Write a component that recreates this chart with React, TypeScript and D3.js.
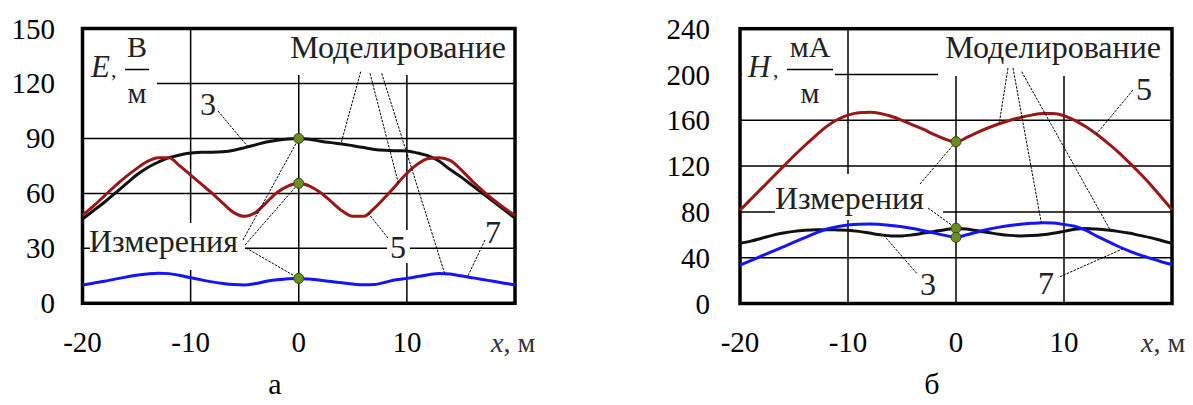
import React from 'react';
import * as d3 from 'd3';

// x, m
const xs = [-20, -19, -18, -17, -16, -15, -14, -13, -12, -11, -10, -9, -8, -7, -6, -5, -4, -3, -2, -1, 0,
  1, 2, 3, 4, 5, 6, 7, 8, 9, 10, 11, 12, 13, 14, 15, 16, 17, 18, 19, 20];

// E, V/m
const e3 = [46, 50.5, 55, 60, 65, 70, 74, 77, 79.5, 81, 82, 82.5, 82.5, 82.7, 83.5, 85, 86.5, 88, 89, 89.7, 90,
  89.5, 88.5, 87.7, 87, 86, 85, 84, 83.5, 83.3, 83.2, 82, 80.5, 77.5, 73, 69, 64.5, 60, 55.5, 51, 46.5];
const e5 = [48, 53, 58.5, 64, 69, 73.5, 77.5, 79.5, 79.5, 75, 70, 65, 60, 54.5, 49.5, 47.5, 49.5, 55, 60.5, 64, 65.5,
  64, 60.5, 55.5, 50.5, 47.5, 47.5, 52, 58, 64.5, 71, 76, 79, 79.5, 78, 73, 67, 61.5, 56.5, 52, 48];
const e7 = [10, 11, 12, 13.2, 14.3, 15.3, 16, 16.4, 16.2, 15.2, 14, 12.8, 11.7, 10.8, 10.2, 10, 10.8, 12, 12.8, 13.4, 13.6,
  13.2, 12.6, 11.9, 11.2, 10.5, 10.1, 10.2, 11.5, 12.8, 13.6, 14.6, 15.6, 16.3, 16, 15, 14, 13, 12, 11, 10];
const eMeas = [90, 65.5, 13.6];

// H, mA/m
const h3 = [52.5, 54.5, 57, 59.5, 61.5, 63, 64, 64.5, 64.5, 64.3, 64, 63, 61.5, 60, 59, 59, 60, 61.5, 63, 64.5, 65.5,
  65, 63.5, 62, 60.5, 59.5, 59, 59.3, 60, 61.3, 63, 64.8, 65.5, 65, 64.2, 63, 61.5, 59.5, 57.5, 55, 52.5];
const h5 = [81.5, 91, 100.5, 110, 119.5, 129, 138, 146.5, 154.5, 160.5, 164.5, 166.5, 167, 166, 163.5, 160, 156, 152, 147.5, 143.5, 141,
  145, 149.5, 153.5, 157, 160, 162.5, 164.5, 166, 166, 164, 160, 154.5, 148, 140.5, 132.5, 123.5, 114, 104, 93, 82];
const h7 = [33.6, 37.5, 41.5, 45.5, 49.5, 53.5, 57.5, 61.5, 64.8, 67, 68.5, 69.3, 69.5, 69, 68.2, 67, 65.5, 63.5, 61.5, 59.5, 57.8,
  60, 62.5, 64.8, 66.7, 68.2, 69.3, 70, 70.5, 70.2, 69, 67.5, 64, 59, 54.5, 50, 46, 42.5, 39.5, 36.5, 34];
const hMeas = [141.3, 65.7, 57.8];

const measX = 0;
const xTicks = [-20, -10, 0, 10];
const xGrid = [-10, 0, 10];
const eTicks = [0, 30, 60, 90, 120, 150];
const hTicks = [0, 40, 80, 120, 160, 200, 240];

const FONT = "'Liberation Serif', 'DejaVu Serif', serif";
const RED = '#9a1717';
const BLUE = '#1414ff';
const BLACK = '#111';

// value of a series at any x (linear between samples)
const at = (vals: number[], xv: number) => {
  const i = Math.max(0, Math.min(xs.length - 2, Math.floor(xv - xs[0])));
  const t = (xv - xs[i]) / (xs[i + 1] - xs[i]);
  return vals[i] + (vals[i + 1] - vals[i]) * t;
};

type Leader = { from: [number, number]; vals?: number[]; xv?: number; meas?: number };
type Label = { text: string; x: number; y: number; anchor?: string };

type PanelProps = {
  xRange: [number, number];
  yMax: number;
  yRange: [number, number];
  yTicks: number[];
  tickRight: number;
  series: { vals: number[]; color: string }[];
  meas: number[];
  masks: [number, number, number, number][];
  labels: Label[];
  leaders: Leader[];
  sym: string;
  unitTop: string;
  unit: { symX: number; commaX: number; fracX: number; barX: [number, number] };
  caption: { text: string; x: number };
  xLabelX: number;
};

const Panel = (p: PanelProps) => {
  const x = d3.scaleLinear().domain([-20, 20]).range(p.xRange);
  const y = d3.scaleLinear().domain([0, p.yMax]).range(p.yRange);
  const line = d3.line<number>()
    .x((_, i) => x(xs[i]))
    .y(d => y(d))
    .curve(d3.curveMonotoneX);
  const [x0, x1] = p.xRange;
  const [yb, yt] = p.yRange;

  return (
    <g>
      {/* grid */}
      {xGrid.map(v => (
        <line key={'gx' + v} x1={x(v)} x2={x(v)} y1={yt} y2={yb} stroke="#000" strokeWidth={1.5} />
      ))}
      {p.yTicks.slice(1, -1).map(v => (
        <line key={'gy' + v} x1={x0} x2={x1} y1={y(v)} y2={y(v)} stroke="#000" strokeWidth={1.5} />
      ))}
      {/* label backgrounds */}
      {p.masks.map((m, i) => (
        <rect key={'m' + i} x={m[0]} y={m[1]} width={m[2]} height={m[3]} fill="#fff" />
      ))}
      <rect x={x0} y={yt} width={x1 - x0} height={yb - yt} fill="none" stroke="#000" strokeWidth={3.5} />
      {/* curves */}
      {p.series.map((s, i) => (
        <path key={'s' + i} d={line(s.vals) || ''} fill="none" stroke={s.color} strokeWidth={3}
          strokeLinejoin="round" />
      ))}
      {/* leaders */}
      {p.leaders.map((l, i) => {
        const ex = l.meas !== undefined ? x(measX) : x(l.xv as number);
        const ey = l.meas !== undefined ? y(l.meas) : y(at(l.vals as number[], l.xv as number));
        return (
          <line key={'l' + i} x1={l.from[0]} y1={l.from[1]} x2={ex} y2={ey}
            stroke="#000" strokeWidth={1} strokeDasharray="2.5 1.2" />
        );
      })}
      {/* measurements */}
      {p.meas.map((v, i) => (
        <circle key={'p' + i} cx={x(measX)} cy={y(v)} r={5} fill="#6b8e23" stroke="#33480f" strokeWidth={1} />
      ))}
      {/* tick labels */}
      {p.yTicks.map(v => (
        <text key={'ty' + v} x={p.tickRight} y={y(v) + 10} textAnchor="end" fontSize={29}>{v}</text>
      ))}
      {xTicks.map(v => (
        <text key={'tx' + v} x={x(v)} y={352} textAnchor="middle" fontSize={29}>{v}</text>
      ))}
      <text x={p.xLabelX} y={352} fontSize={28} fill="#333">
        <tspan fontStyle="italic">x</tspan>, м
      </text>
      {/* axis unit */}
      <text x={p.unit.symX} y={77} fontSize={31} fontStyle="italic" fill="#222">{p.sym}</text>
      <text x={p.unit.commaX} y={77} fontSize={22} fill="#222">,</text>
      <text x={p.unit.fracX} y={57} fontSize={30} textAnchor="middle" fill="#222">{p.unitTop}</text>
      <line x1={p.unit.barX[0]} x2={p.unit.barX[1]} y1={69.5} y2={69.5} stroke="#000" strokeWidth={1.5} />
      <text x={p.unit.fracX} y={103} fontSize={30} textAnchor="middle" fill="#222">м</text>
      {/* annotations */}
      {p.labels.map((l, i) => (
        <text key={'a' + i} x={l.x} y={l.y} fontSize={32} textAnchor={l.anchor || 'start'} fill="#222">{l.text}</text>
      ))}
      <text x={p.caption.x} y={394} fontSize={30} textAnchor="middle">{p.caption.text}</text>
    </g>
  );
};

const App = () => (
  <svg width={1193} height={405}
    style={{ position: 'absolute', left: 0, top: 0, background: '#fff', fontFamily: FONT }}>
    <Panel
      xRange={[82.5, 515]}
      yMax={150}
      yRange={[303.3, 28.5]}
      yTicks={eTicks}
      tickRight={55}
      series={[{ vals: e3, color: BLACK }, { vals: e5, color: RED }, { vals: e7, color: BLUE }]}
      meas={eMeas}
      masks={[[84, 30, 73, 70], [265, 30, 248, 45], [90, 223, 155, 47], [387, 230, 23, 33]]}
      labels={[
        { text: 'Моделирование', x: 506, y: 58, anchor: 'end' },
        { text: '3', x: 200, y: 115 },
        { text: 'Измерения', x: 89, y: 252 },
        { text: '5', x: 390, y: 258 },
        { text: '7', x: 485, y: 243 },
      ]}
      leaders={[
        { from: [218, 111], vals: e3, xv: -4.7 },
        { from: [360.7, 71.7], vals: e3, xv: 3.9 },
        { from: [370, 73.3], vals: e5, xv: 9.2 },
        { from: [381.7, 73.3], vals: e7, xv: 13.5 },
        { from: [243, 240], meas: eMeas[0] },
        { from: [245, 245], meas: eMeas[1] },
        { from: [246, 248], meas: eMeas[2] },
        { from: [388, 238], vals: e5, xv: 6.4 },
        { from: [485, 240], vals: e7, xv: 15.6 },
      ]}
      sym="E"
      unitTop="В"
      unit={{ symX: 91, commaX: 111, fracX: 137, barX: [125, 149] }}
      caption={{ text: 'а', x: 275 }}
      xLabelX={491}
    />
    <Panel
      xRange={[740, 1172]}
      yMax={240}
      yRange={[303.5, 28.7]}
      yTicks={hTicks}
      tickRight={710}
      series={[{ vals: h5, color: RED }, { vals: h3, color: BLACK }, { vals: h7, color: BLUE }]}
      meas={hMeas}
      masks={[[742, 30, 93, 75], [938, 30, 232, 46], [775, 174, 168, 46]]}
      labels={[
        { text: 'Моделирование', x: 1161, y: 58, anchor: 'end' },
        { text: '5', x: 1136, y: 100 },
        { text: 'Измерения', x: 775, y: 209 },
        { text: '3', x: 920, y: 295 },
        { text: '7', x: 1038, y: 294 },
      ]}
      leaders={[
        { from: [1133, 90], vals: h5, xv: 13.0 },
        { from: [1008, 68], vals: h5, xv: 4.0 },
        { from: [1013, 68], vals: h7, xv: 7.9 },
        { from: [1021.7, 71.7], vals: h3, xv: 14.3 },
        { from: [920, 184], meas: hMeas[0] },
        { from: [928, 208], meas: hMeas[1] },
        { from: [916.7, 273.3], vals: h3, xv: -6.7 },
        { from: [1060, 276.7], vals: h7, xv: 15.5 },
      ]}
      sym="H"
      unitTop="мА"
      unit={{ symX: 748, commaX: 773, fracX: 810, barX: [787, 833] }}
      caption={{ text: 'б', x: 932 }}
      xLabelX={1141}
    />
  </svg>
);

export default App;
